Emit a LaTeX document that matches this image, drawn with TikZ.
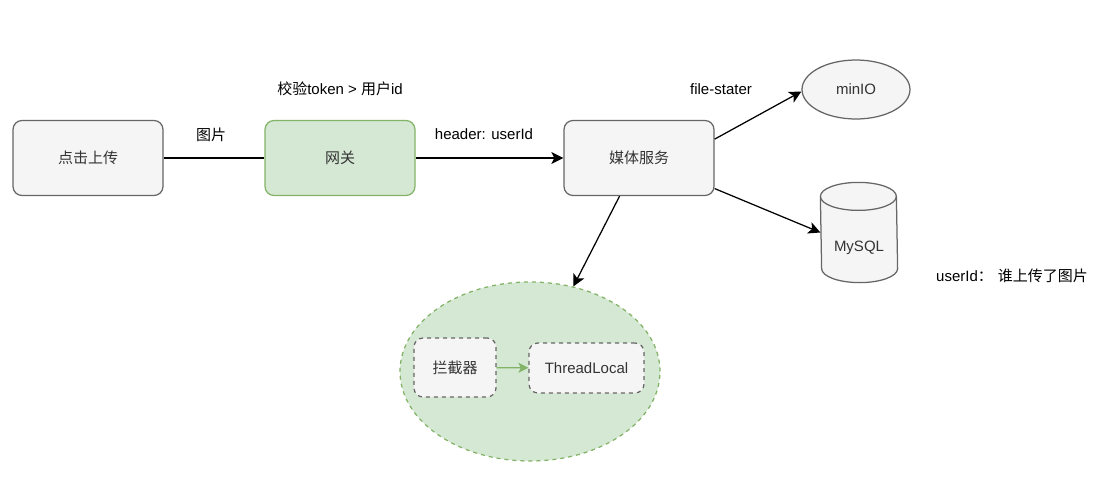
\documentclass[tikz,border=0pt]{standalone}
\usepackage{fontspec}
\setmainfont{Liberation Sans}
\newfontfamily\cjk{Noto Sans CJK SC}
\usepackage{tikz}
\usetikzlibrary{arrows.meta}
\usetikzlibrary{shapes.geometric}
\definecolor{boxfill}{HTML}{F5F5F5}
\definecolor{boxline}{HTML}{666666}
\definecolor{greenfill}{HTML}{D5E8D4}
\definecolor{greenline}{HTML}{82B366}
\definecolor{textgray}{HTML}{333333}

\begin{document}
\begin{tikzpicture}[
    x=1pt, y=-1pt, line width=1.25pt, font=\fontsize{15}{18}\selectfont,
    box_node/.style={rectangle, rounded corners=9pt, draw=boxline, fill=boxfill, text=textgray, minimum width=150pt, minimum height=75pt},
    gate_node/.style={box_node, draw=greenline, fill=greenfill},
    store_node/.style={ellipse, draw=boxline, fill=boxfill, text=textgray, minimum width=108pt, minimum height=59pt, inner sep=0pt},
    db_node/.style={rectangle, minimum width=76pt, minimum height=99pt, inner sep=0pt},
    scope_node/.style={ellipse, dash pattern=on 4pt off 4pt, draw=greenline, fill=greenfill, minimum width=260pt, minimum height=179pt},
    dash_node/.style={rectangle, rounded corners=9pt, dash pattern=on 4pt off 4pt, draw=boxline, fill=boxfill, text=textgray, minimum height=50pt},
    link/.style={-{Stealth[length=12pt, width=12pt, inset=3pt]}, black}
]
\useasboundingbox (0,0) rectangle (1114,477);

% 定義節點位置 (Define node positions)
\node[box_node] (upload) at (88,158) {\cjk 点击上传};
\node[gate_node] (gateway) at (340,158) {\cjk 网关};
\node[box_node] (media) at (639,158) {\cjk 媒体服务};
\node[store_node] (minio) at (856,89.5) {minIO};
\node[db_node] (mysql) at (859,232.5) {};
\draw[boxline, fill=boxfill] ([yshift=-14pt]mysql.north west) arc[start angle=180, end angle=360, x radius=38, y radius=14]
    -- ([yshift=14pt]mysql.south east) arc[start angle=0, end angle=180, x radius=38, y radius=14] -- cycle;
\draw[boxline] ([yshift=-14pt]mysql.north west) arc[start angle=180, end angle=0, x radius=38, y radius=14];
\node[text=textgray] (mysql_text) at (859,248) {MySQL};
\node[scope_node] (ctx) at (530,371.5) {};
\node[dash_node, minimum width=82pt, minimum height=59pt] (interceptor) at (455,367.5) {\cjk 拦截器};
\node[dash_node, minimum width=115pt] (threadlocal) at (586.5,368) {ThreadLocal};

% 文字標籤 (Text labels)
\node (lbl_pic) at (211,135) {\cjk 图片};
\node (lbl_token) at (340,89) {{\cjk 校验}token > {\cjk 用户}id};
\node (lbl_header) at (484,134) {header: userId};
\node (lbl_stater) at (721,89) {file-stater};
\node (lbl_note) at (1012,276) {userId{\cjk ：}\hspace{5pt}{\cjk 谁上传了图片}};

% 連接節點 (Connect the nodes)
\draw (upload) -- (gateway);
\draw[link] (gateway) -- (media);
\draw[link] (media.14) -- ([yshift=-2pt]minio.west);
\draw[link] (media.-22) -- (mysql.west);
\draw[link] (media.-117) -- (ctx.63);
\draw[-{Stealth[length=10pt, width=10pt, inset=2.5pt]}, greenline] (interceptor) -- (threadlocal);

\end{tikzpicture}
\end{document}
